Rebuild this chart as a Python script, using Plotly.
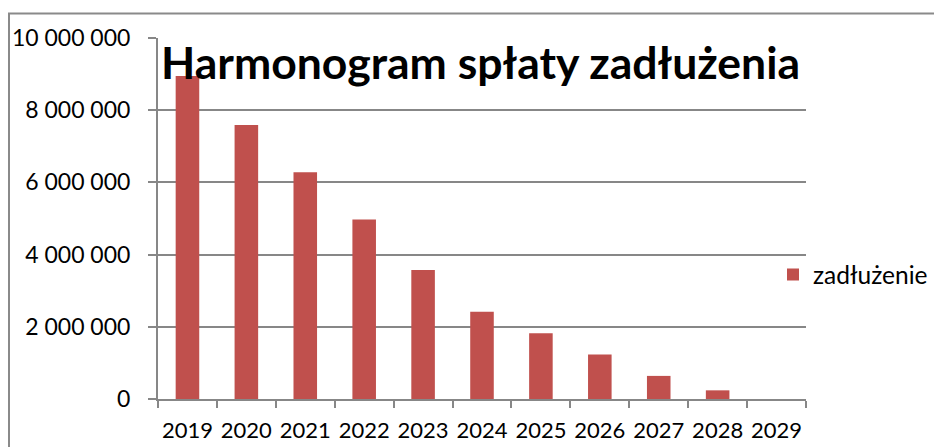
import plotly.graph_objects as go

years = ["2019", "2020", "2021", "2022", "2023", "2024", "2025", "2026", "2027", "2028", "2029"]
debt = [8950000, 7590000, 6280000, 4970000, 3570000, 2420000, 1820000, 1230000, 640000, 240000, 0]
y_tick_vals = [0, 2000000, 4000000, 6000000, 8000000, 10000000]
y_tick_text = ["0", "2 000 000", "4 000 000", "6 000 000", "8 000 000", "10 000 000"]
series_name = "zadłużenie"
title_text = "Harmonogram spłaty zadłużenia"

FONT = "Lato"
GRID = "#878787"

fig = go.Figure()
fig.add_trace(go.Bar(
    x=years, y=debt, name=series_name,
    marker=dict(color="#C0504D", line=dict(width=0)),
    showlegend=True,
))

# page body has an 8px margin; figure coordinates are window coordinates minus 8
W, H = 934, 439
L, T = 150, 30
R = W - 798
B = H - 391.5
pw, ph = W - L - R, H - T - B

def px_x(p):
    return (p - L) / pw

def px_y(p):
    return (H - B - p) / ph

fig.update_layout(
    width=W, height=H,
    margin=dict(l=L, r=R, t=T, b=B, pad=0, autoexpand=False),
    paper_bgcolor="white", plot_bgcolor="white",
    bargap=0.6,
    font=dict(family=FONT, size=23, color="black"),
    showlegend=True,
    legend=dict(
        x=px_x(765), y=px_y(267), xanchor="left", yanchor="middle",
        font=dict(family=FONT, size=24.5, color="black"),
        bgcolor="rgba(0,0,0,0)", borderwidth=0,
    ),
    xaxis=dict(
        type="category",
        automargin=False,
        tickangle=0,
        showgrid=False,
        showline=True, linecolor=GRID, linewidth=2,
        ticks="outside", tickson="boundaries", ticklen=7, tickwidth=2, tickcolor=GRID,
        ticklabelstandoff=11,
        tickfont=dict(family=FONT, size=22, color="black"),
        zeroline=False,
    ),
    yaxis=dict(
        automargin=False,
        range=[0, 10000000],
        tickvals=y_tick_vals, ticktext=y_tick_text,
        showgrid=True, gridcolor=GRID, gridwidth=2,
        showline=True, linecolor=GRID, linewidth=2,
        ticks="outside", ticklen=8, tickwidth=2, tickcolor=GRID,
        ticklabelstandoff=13,
        tickfont=dict(family=FONT, size=23, color="black"),
        zeroline=False,
    ),
    annotations=[dict(
        text="<b>" + title_text + "</b>",
        x=px_x(472.5), y=px_y(54), xref="paper", yref="paper",
        xanchor="center", yanchor="middle", showarrow=False,
        font=dict(family=FONT, size=44.5, color="black"),
    )],
    shapes=[dict(
        type="rect", xref="paper", yref="paper",
        x0=px_x(1), x1=px_x(960), y0=px_y(470), y1=px_y(5.5),
        line=dict(color="#8a8a8a", width=2), fillcolor="rgba(0,0,0,0)",
        layer="below",
    )],
)

fig.write_html("out.html")
